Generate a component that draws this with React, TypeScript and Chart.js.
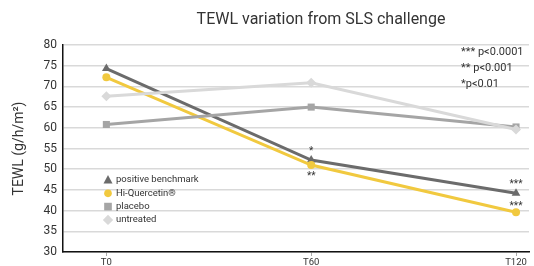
import React, { useEffect, useRef } from "react";
import { Chart, registerables } from "chart.js";

Chart.register(...registerables);

const timepoints = [0, 60, 120];
const timeLabels = ["T0", "T60", "T120"];
const seriesNames = ["positive benchmark", "Hi-Quercetin®", "placebo", "untreated"];
const positiveBenchmark = [74.3, 52.2, 44.2];
const hiQuercetin = [72.2, 51.0, 39.6];
const placebo = [60.8, 65.0, 60.2];
const untreated = [67.6, 70.9, 59.6];
const benchmarkStars = ["", "*", "***"];
const quercetinStars = ["", "**", "***"];
const pNotes = ["*** p<0.0001", "** p<0.001", "*p<0.01"];
const titleText = "TEWL variation from SLS challenge";
const yTitle = "TEWL (g/h/m²)";

const colors = ["#6b6b6b", "#f1c93f", "#a5a5a5", "#d9d9d9"];
const shapes = ["triangle", "circle", "rect", "rectRot"];
const FONT = "Roboto, 'DejaVu Sans', sans-serif";

function drawMarker(ctx: CanvasRenderingContext2D, shape: string, x: number, y: number, r: number, color: string) {
  ctx.save();
  ctx.fillStyle = color;
  ctx.beginPath();
  if (shape === "triangle") {
    ctx.moveTo(x, y - r * 1.1);
    ctx.lineTo(x + r, y + r * 0.75);
    ctx.lineTo(x - r, y + r * 0.75);
    ctx.closePath();
  } else if (shape === "circle") {
    ctx.arc(x, y, r * 0.85, 0, Math.PI * 2);
  } else if (shape === "rect") {
    ctx.rect(x - r * 0.85, y - r * 0.85, r * 1.7, r * 1.7);
  } else {
    ctx.moveTo(x, y - r * 1.15);
    ctx.lineTo(x + r * 1.15, y);
    ctx.lineTo(x, y + r * 1.15);
    ctx.lineTo(x - r * 1.15, y);
    ctx.closePath();
  }
  ctx.fill();
  ctx.restore();
}

const overlayPlugin = {
  id: "overlay",
  afterDatasetsDraw(chart: any) {
    const { ctx, chartArea, scales } = chart;
    const xs = scales.x;
    const ys = scales.y;
    ctx.save();
    // title
    ctx.fillStyle = "#333";
    ctx.font = `16px ${FONT}`;
    ctx.textAlign = "center";
    ctx.textBaseline = "middle";
    ctx.fillText(titleText, 321, 20);
    // p-value notes
    ctx.font = `11px ${FONT}`;
    ctx.textAlign = "left";
    ctx.fillStyle = "#333";
    pNotes.forEach((t, i) => ctx.fillText(t, 461, 52 + i * 16));
    // stars
    ctx.font = `10px ${FONT}`;
    ctx.textAlign = "center";
    ctx.fillStyle = "#333";
    timepoints.forEach((t, i) => {
      const px = xs.getPixelForValue(t);
      if (benchmarkStars[i]) {
        ctx.fillText(benchmarkStars[i], px, ys.getPixelForValue(positiveBenchmark[i]) - 9);
      }
      if (quercetinStars[i]) {
        const below = i === 1;
        const py = ys.getPixelForValue(hiQuercetin[i]);
        ctx.fillText(quercetinStars[i], px, below ? py + 11 : py - 6);
      }
    });
    // legend
    const lx = chartArea.left + 45;
    const ly = chartArea.top + 135;
    ctx.font = `9.5px ${FONT}`;
    ctx.textAlign = "left";
    seriesNames.forEach((name, i) => {
      const y = ly + i * 13.3;
      drawMarker(ctx, shapes[i], lx, y, 4.5, colors[i]);
      ctx.fillStyle = "#333";
      ctx.fillText(name, lx + 8, y);
    });
    ctx.restore();
  },
};

export default function App() {
  const ref = useRef<HTMLCanvasElement | null>(null);
  useEffect(() => {
    document.body.style.margin = "0";
    const seriesData = [positiveBenchmark, hiQuercetin, placebo, untreated];
    const order = [3, 2, 1, 0];
    const chart = new Chart(ref.current!, {
      type: "line",
      data: {
        datasets: order.map((k) => ({
          label: seriesNames[k],
          data: timepoints.map((t, i) => ({ x: t, y: seriesData[k][i] })),
          borderColor: colors[k],
          backgroundColor: colors[k],
          borderWidth: 3,
          pointStyle: shapes[k] as any,
          pointRadius: k === 1 ? 4 : 5,
          pointBorderWidth: 0,
          tension: 0,
        })),
      },
      options: {
        animation: false,
        responsive: false,
        layout: { padding: { top: 45, right: 1, left: 0, bottom: 0 } },
        plugins: { legend: { display: false }, tooltip: { enabled: false }, title: { display: false } },
        scales: {
          x: {
            type: "linear",
            min: -12.7,
            max: 123.8,
            afterBuildTicks: (s: any) => {
              s.ticks = timepoints.map((v) => ({ value: v }));
            },
            afterFit: (s: any) => {
              s.height = 14;
            },
            ticks: {
              autoSkip: false,
              maxRotation: 0,
              padding: 1,
              color: "#333",
              font: { size: 9.5, family: FONT },
              callback: (v: any) => timeLabels[timepoints.indexOf(Number(v))],
            },
            grid: { drawOnChartArea: false, drawTicks: true, tickLength: 4, color: "#aaa" },
            border: { color: "#111", width: 1.5 },
          },
          y: {
            min: 30,
            max: 80,
            afterFit: (s: any) => {
              s.width = 63;
            },
            ticks: { stepSize: 5, color: "#333", padding: 6, font: { size: 12, family: FONT } },
            grid: { color: "#d9d9d9", lineWidth: 1.5, drawTicks: false },
            border: { color: "#111", width: 1.5 },
            title: { display: true, text: yTitle, color: "#333", font: { size: 14, family: FONT }, padding: { top: 11, bottom: 4 } },
          },
        },
      },
      plugins: [overlayPlugin],
    });
    return () => chart.destroy();
  }, []);
  return (
    <div style={{ width: 534, height: 266 }}>
      <canvas ref={ref} width={534} height={266} style={{ width: 534, height: 266, display: "block" }} />
    </div>
  );
}
